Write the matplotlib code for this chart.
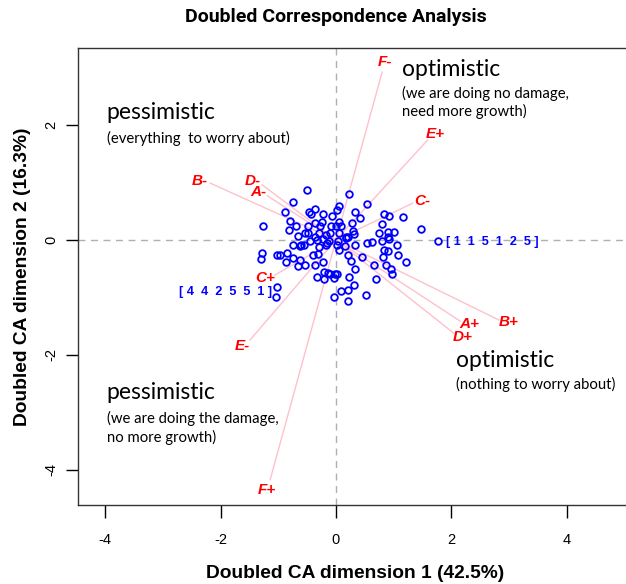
import numpy as np
import matplotlib
matplotlib.use("Agg")
import matplotlib.pyplot as plt

plt.rcParams["axes.unicode_minus"] = False
plt.rcParams["font.family"] = ["Liberation Sans", "DejaVu Sans"]

# respondent (row) points
resp_x = [-0.50, 0.22, -0.75, 0.54, 0.06, -0.36, 0.01, -0.89, -0.47, -0.44,
          -0.22, -0.06, 0.33, 0.42, 0.84, 0.92, 1.17, -0.80, -0.36, -0.24,
          0.06, -0.08, 0.00, 0.09, 0.27, 0.80, -1.26, -0.70, -0.48, -0.28,
          -0.54, -0.49, -0.29, -0.10, 0.06, 0.30, 0.31, 0.75, 0.91, 1.00,
          1.47, -0.82, -0.66, -0.36, -0.17, 0.17, 0.20, 0.91, 0.92, -0.75,
          -0.55, -0.61, -0.45, -0.33, -0.23, -0.12, 0.04, 0.17, 0.53, 0.62,
          0.80, 1.05, 1.77, -1.29, -1.30, -1.03, -0.97, -0.84, -0.75, -0.63,
          -0.29, -0.18, -0.15, 0.01, 0.06, 0.15, 0.33, 0.84, 0.91, 1.08,
          0.82, 1.22, -0.87, -0.63, -0.65, -0.53, -0.36, -0.39, -0.31, -0.23,
          0.20, 0.26, 0.45, 0.66, 0.87, 0.95, 0.97, 0.33, -0.33, -0.21,
          -0.13, -0.11, -0.21, -0.04, -0.01, 0.02, 0.22, 0.70, -1.03, -1.04,
          0.09, 0.20, 0.31, 0.52, -0.03, 0.20]
resp_y = [0.87, 0.80, 0.66, 0.63, 0.60, 0.54, 0.53, 0.49, 0.48, 0.46,
          0.46, 0.41, 0.48, 0.39, 0.46, 0.41, 0.40, 0.33, 0.29, 0.32,
          0.32, 0.24, 0.24, 0.25, 0.29, 0.28, 0.24, 0.24, 0.24, 0.24,
          0.13, 0.13, 0.13, 0.13, 0.12, 0.16, 0.11, 0.13, 0.14, 0.14,
          0.19, 0.17, 0.07, 0.06, 0.08, 0.05, 0.06, 0.05, 0.02, -0.09,
          -0.08, -0.09, -0.01, 0.00, 0.02, -0.02, -0.01, 0.03, -0.06, -0.03,
          -0.02, -0.09, -0.02, -0.22, -0.33, -0.26, -0.26, -0.22, -0.31, -0.10,
          -0.13, -0.09, -0.06, -0.08, -0.17, -0.10, -0.08, -0.17, -0.19, -0.26,
          -0.30, -0.38, -0.38, -0.35, -0.46, -0.44, -0.43, -0.26, -0.24, -0.38,
          -0.26, -0.36, -0.30, -0.44, -0.43, -0.51, -0.60, -0.50, -0.64, -0.56,
          -0.57, -0.59, -0.67, -0.66, -0.59, -0.59, -0.64, -0.67, -0.82, -0.99,
          -0.88, -0.87, -0.79, -0.96, -0.99, -1.06]

# doubled category (column) points
cat_names = ["A-", "B-", "C-", "D-", "E-", "F-", "A+", "B+", "C+", "D+", "E+", "F+"]
cat_x = [-1.19, -2.18, 1.33, -1.28, -1.49, 0.80, 2.15, 2.82, -1.06, 2.04, 1.59, -1.14]
cat_y = [0.77, 0.99, 0.64, 0.96, -1.74, 2.92, -1.41, -1.39, -0.61, -1.62, 1.74, -4.17]

# two extreme respondents get their response pattern
pattern_labels = ["[ 4  4  2  5  5  1 ]", "[ 1  1  5  1  2  5 ]"]
pattern_x = [-1.10, 1.90]
pattern_y = [-0.90, -0.03]

fig = plt.figure(figsize=(6.26, 5.84), dpi=100)
ax = fig.add_axes([0.1246, 0.1353, 0.885, 0.7825])
ax.set_xlim(-4.47, 5.13)
ax.set_ylim(-4.61, 3.34)

ax.axhline(0, color="#b0b0b0", ls=(0, (5, 4)), lw=1, zorder=0)
ax.axvline(0, color="#b0b0b0", ls=(0, (5, 4)), lw=1, zorder=0)

for x, y in zip(cat_x, cat_y):
    ax.plot([0, x], [0, y], color="pink", lw=1, zorder=1)

ax.plot(resp_x, resp_y, "o", mfc="none", mec="blue", mew=1.3, ms=4.8, zorder=2)

for name, x, y in zip(cat_names, cat_x, cat_y):
    r = np.hypot(x, y)
    ux, uy = x / r, y / r
    ax.annotate(name, (x, y), xytext=(8 * ux, 8 * uy * abs(uy)),
                textcoords="offset points", ha="center", va="center",
                color="red", fontsize=11, fontweight="bold", style="italic")

ax.text(pattern_x[0], pattern_y[0], pattern_labels[0], ha="right", va="center",
        color="blue", fontsize=9.2, fontweight="bold")
ax.text(pattern_x[1], pattern_y[1], pattern_labels[1], ha="left", va="center",
        color="blue", fontsize=9.2, fontweight="bold")

big = dict(fontsize=16.5, family="Lato", va="center", ha="left")
small = dict(fontsize=10.7, family="Lato", va="center", ha="left", linespacing=1.25)
ax.text(-3.97, 2.21, "pessimistic", **big)
ax.text(-3.97, 1.77, "(everything  to worry about)", **small)
ax.text(1.14, 2.96, "optimistic", **big)
ax.text(1.14, 2.40, "(we are doing no damage,\nneed more growth)", **small)
ax.text(2.08, -2.09, "optimistic", **big)
ax.text(2.08, -2.52, "(nothing to worry about)", **small)
ax.text(-3.97, -2.66, "pessimistic", **big)
ax.text(-3.97, -3.27, "(we are doing the damage,\nno more growth)", **small)

ax.set_xticks([-4, -2, 0, 2, 4])
ax.set_yticks([-4, -2, 0, 2])
ax.tick_params(length=9, width=1, labelsize=10.5)
ax.tick_params(axis="x", pad=11)
ax.tick_params(axis="y", pad=5)
for lab in ax.get_yticklabels():
    lab.set_rotation(90)
    lab.set_va("center")
for s in ax.spines.values():
    s.set_color("#333333")
    s.set_linewidth(1)

ax.set_xlabel("Doubled CA dimension 1 (42.5%)", fontsize=13.8, fontweight="bold",
              labelpad=13)
ax.set_ylabel("Doubled CA dimension 2 (16.3%)", fontsize=13.8, fontweight="bold",
              labelpad=10)
fig.text(336 / 626, 1 - 17 / 584, "Doubled Correspondence Analysis", ha="center",
         va="center", fontsize=14, fontweight="bold",
         family=["Roboto", "Liberation Sans"])

fig.savefig("out.png", dpi=100)
